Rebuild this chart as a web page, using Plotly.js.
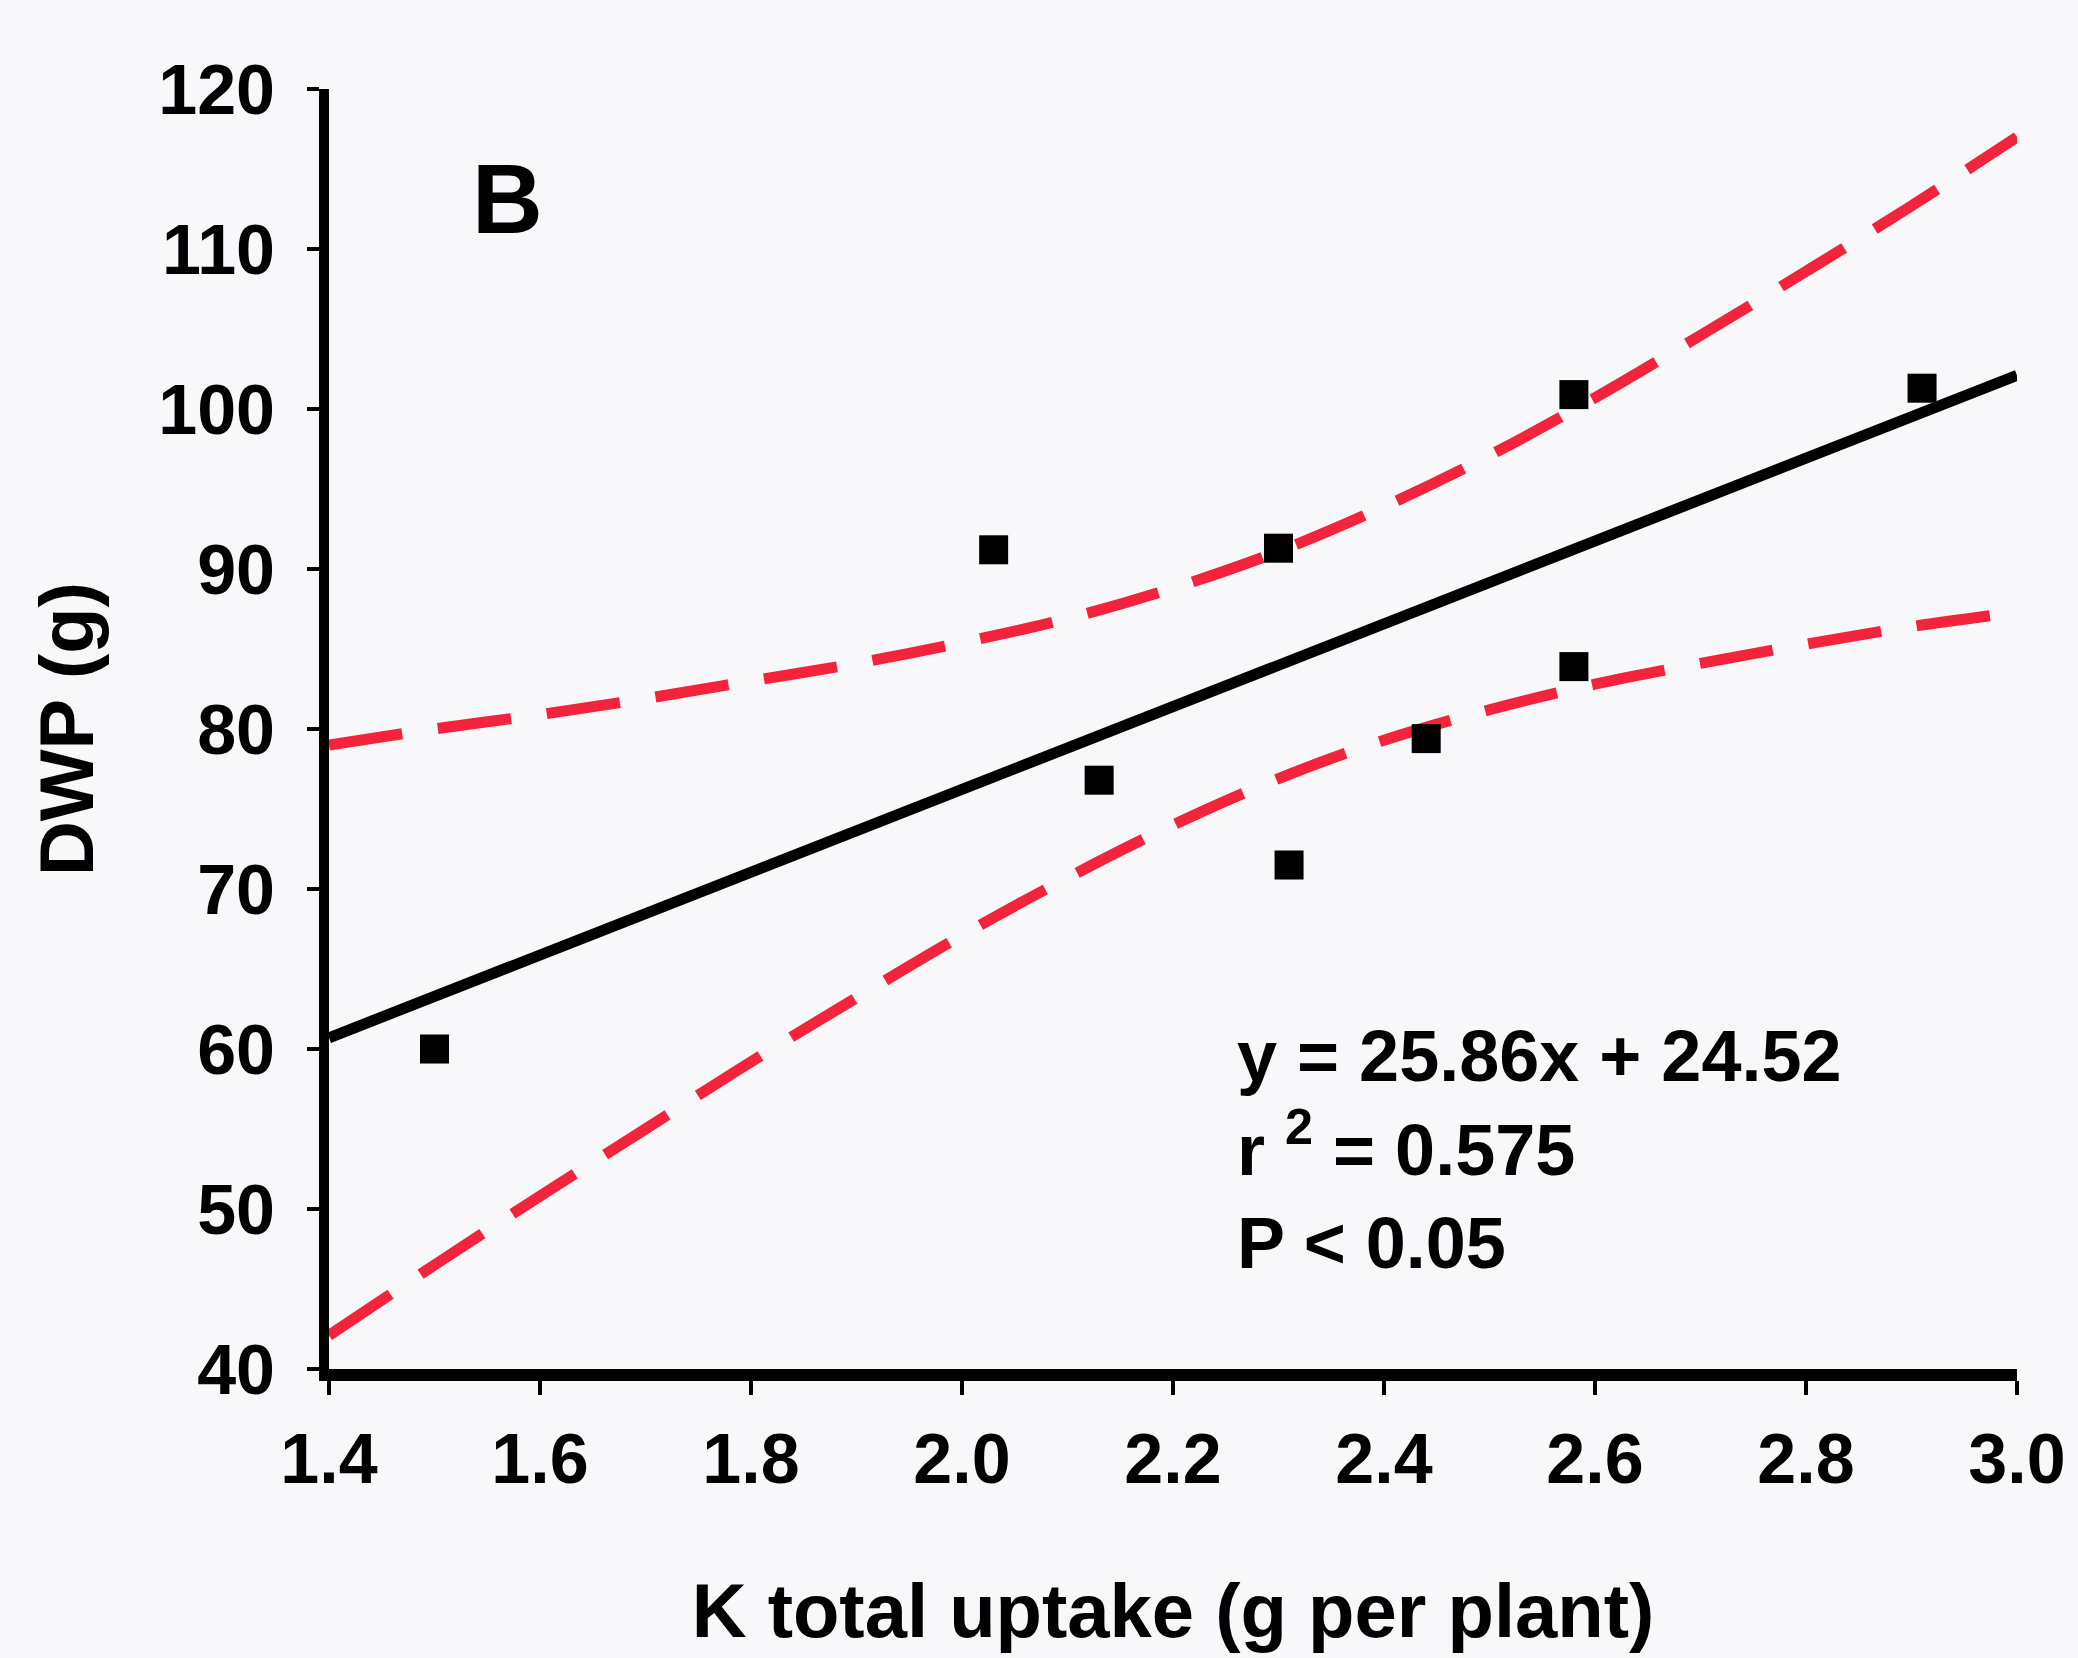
<!DOCTYPE html>
<html>
<head>
<meta charset="utf-8">
<script src="https://cdn.plot.ly/plotly-3.0.1.min.js"></script>
<style>
  html, body { margin: 0; padding: 0; background: #F8F8FB; }
  #chart { width: 2078px; height: 1658px; }
</style>
</head>
<body>
<div id="chart"></div>
<script>
// Observed data points: K total uptake (g per plant) vs DWP (g)
const kUptake = [1.50, 2.03, 2.13, 2.30, 2.31, 2.44, 2.58, 2.58, 2.91];
const dwp     = [60.0, 91.2, 76.8, 91.3, 71.5, 79.4, 83.9, 100.9, 101.3];

// Fitted regression line (end points)
const fitX = [1.4, 3.0];
const fitY = [60.7, 102.1];

// 95% confidence bands
const bandX  = [1.4, 1.5, 1.6, 1.7, 1.8, 1.9, 2.0, 2.1, 2.2, 2.3, 2.4, 2.5, 2.6, 2.7, 2.8, 2.9, 3.0];
const upperY = [79.0, 80.0, 80.9, 81.9, 83.0, 84.1, 85.4, 86.9, 88.8, 91.1, 93.9, 97.1, 100.7, 104.6, 108.6, 112.7, 117.0];
const lowerY = [42.1, 46.5, 50.8, 55.0, 59.2, 63.2, 67.1, 70.7, 74.0, 76.9, 79.3, 81.2, 82.8, 84.1, 85.3, 86.4, 87.3];

// Text
const panelLabel = 'B';
const eqLines = ['y = 25.86x + 24.52', 'r <sup>2</sup> = 0.575', 'P < 0.05'];
const xTitle = 'K total uptake (g per plant)';
const yTitle = 'DWP (g)';

const FONT = 'Liberation Sans, Arial, Helvetica, sans-serif';
const RED = '#F2233A';

const traces = [
  { x: bandX, y: upperY, mode: 'lines', line: { color: RED, width: 11, dash: '74px,36px', shape: 'spline' }, hoverinfo: 'skip' },
  { x: bandX, y: lowerY, mode: 'lines', line: { color: RED, width: 11, dash: '74px,36px', shape: 'spline' }, hoverinfo: 'skip' },
  { x: fitX, y: fitY, mode: 'lines', line: { color: '#000000', width: 11 } },
  { x: kUptake, y: dwp, mode: 'markers', marker: { symbol: 'square', size: 29, color: '#000000' } }
];

const layout = {
  width: 2078, height: 1658, autosize: false,
  paper_bgcolor: '#F8F8FB', plot_bgcolor: '#F8F8FB',
  showlegend: false,
  margin: { l: 329, r: 61, t: 89, b: 289 },
  font: { family: FONT, color: '#000000' },
  xaxis: {
    range: [1.4, 3.0], dtick: 0.2, tick0: 1.4, tickformat: '.1f',
    showline: true, linecolor: '#000000', linewidth: 12,
    ticks: 'outside', ticklen: 14, tickwidth: 4, tickcolor: '#000000',
    showgrid: false, zeroline: false,
    tickfont: { family: FONT, size: 70, weight: 'bold', color: '#000000' },
    ticklabelstandoff: 4,
    title: { text: xTitle, font: { family: FONT, size: 76, weight: 'bold', color: '#000000' }, standoff: 92 }
  },
  yaxis: {
    range: [40, 120], dtick: 10, tick0: 40,
    showline: true, linecolor: '#000000', linewidth: 10,
    ticks: 'outside', ticklen: 12, tickwidth: 4, tickcolor: '#000000',
    showgrid: false, zeroline: false,
    tickfont: { family: FONT, size: 70, weight: 'bold', color: '#000000' },
    ticklabelstandoff: 18,
    title: { text: yTitle, font: { family: FONT, size: 76, weight: 'bold', color: '#000000' }, standoff: 44 }
  },
  annotations: [
    { x: 1.569, y: 113.1, xref: 'x', yref: 'y', text: panelLabel, showarrow: false,
      xanchor: 'center', yanchor: 'middle', font: { family: FONT, size: 98, weight: 'bold', color: '#000000' } },
    { x: 2.259, y: 53.75, xref: 'x', yref: 'y', text: eqLines.join('<br>'), showarrow: false, align: 'left',
      xanchor: 'left', yanchor: 'middle', font: { family: FONT, size: 72, weight: 'bold', color: '#000000' } }
  ]
};

Plotly.newPlot('chart', traces, layout, { staticPlot: true, displayModeBar: false });
</script>
</body>
</html>
